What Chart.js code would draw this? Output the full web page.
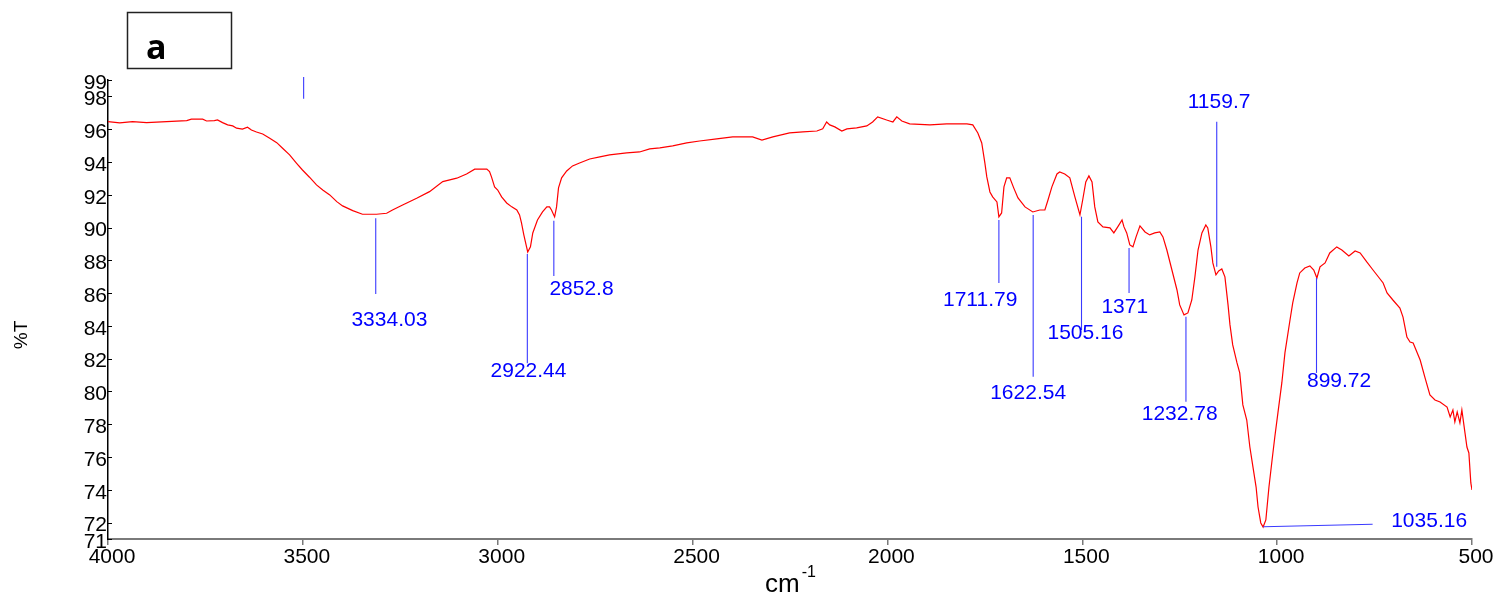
<!DOCTYPE html>
<html>
<head>
<meta charset="utf-8">
<script src="https://cdn.jsdelivr.net/npm/chart.js@4.4.0/dist/chart.umd.min.js"></script>
<style>
html,body{margin:0;padding:0;background:#fff;}
#wrap{width:1497px;height:601px;position:relative;}
</style>
</head>
<body>
<div id="wrap"><canvas id="c"></canvas></div>
<script>
// ---- Data ----
const wavenumbers = [4000,3970,3937,3901,3798,3786,3757,3747,3727,3719,3706,3693,3680,3670,3655,3642,3632,3619,3603,3585,3567,3552,3534,3516,3501,3483,3465,3449,3431,3413,3398,3372,3347,3311,3285,3270,3244,3208,3175,3141,3105,3080,3059,3028,3021,3016,3008,3000,2990,2977,2964,2951,2944,2939,2933,2926,2923,2916,2910,2898,2885,2874,2867,2862,2854,2849,2844,2836,2823,2808,2790,2764,2738,2713,2669,2636,2610,2584,2551,2515,2482,2438,2397,2346,2322,2294,2251,2217,2181,2166,2156,2148,2135,2117,2104,2079,2053,2038,2025,2002,1986,1976,1963,1943,1891,1848,1796,1781,1768,1758,1750,1745,1737,1730,1719,1714,1707,1701,1694,1686,1676,1665,1647,1627,1609,1596,1588,1578,1565,1558,1545,1532,1519,1506,1499,1491,1483,1475,1468,1460,1447,1429,1419,1409,1398,1393,1386,1378,1370,1362,1352,1339,1327,1314,1301,1293,1283,1270,1257,1250,1239,1229,1219,1211,1203,1193,1183,1178,1170,1165,1157,1150,1142,1134,1126,1121,1114,1103,1096,1088,1078,1070,1062,1054,1049,1042,1036,1029,1021,1013,1006,998,988,980,967,960,949,942,929,916,906,898,890,877,865,847,834,816,800,787,770,754,728,718,703,685,677,667,659,651,633,621,608,595,582,564,556,549,544,538,531,526,518,513,508,503,500];
const transmittance = [96.46,96.38,96.46,96.40,96.52,96.61,96.61,96.50,96.52,96.56,96.40,96.26,96.20,96.06,96.00,96.12,95.95,95.83,95.71,95.45,95.18,94.84,94.43,93.92,93.51,93.07,92.60,92.29,91.99,91.58,91.32,91.03,90.81,90.81,90.87,91.07,91.38,91.79,92.19,92.80,93.01,93.27,93.56,93.56,93.41,93.09,92.48,92.29,91.87,91.50,91.26,91.07,90.77,90.28,89.55,88.82,88.51,88.82,89.67,90.46,90.95,91.26,91.26,91.07,90.65,91.26,92.42,93.03,93.45,93.76,93.94,94.18,94.31,94.43,94.55,94.61,94.80,94.86,94.98,95.16,95.28,95.41,95.53,95.53,95.34,95.53,95.77,95.83,95.89,96.02,96.44,96.26,96.14,95.89,96.02,96.08,96.20,96.44,96.75,96.56,96.44,96.75,96.50,96.32,96.26,96.32,96.32,96.26,95.77,95.16,93.94,93.09,92.17,91.87,91.56,90.65,90.89,92.48,93.03,93.03,92.42,91.81,91.26,90.95,91.07,91.07,91.68,92.48,93.27,93.39,93.27,93.03,91.87,90.77,91.68,92.78,93.15,92.78,91.26,90.34,90.04,89.98,89.67,90.04,90.46,90.04,89.67,88.94,88.82,89.43,90.10,89.73,89.55,89.67,89.73,89.43,88.63,87.41,86.19,85.28,84.67,84.79,85.58,86.99,88.63,89.67,90.16,89.98,88.82,87.84,87.11,87.35,87.47,86.99,85.28,84.06,82.84,81.74,81.13,79.18,78.26,76.61,75.39,74.17,72.95,71.98,71.73,72.16,74.17,75.82,77.22,78.69,80.52,82.35,84.36,85.40,86.62,87.23,87.53,87.66,87.41,86.92,87.60,87.84,88.45,88.82,88.63,88.27,88.57,88.45,87.90,87.41,86.62,86.01,85.58,85.09,84.54,83.32,83.02,82.96,81.92,80.88,79.79,79.48,79.36,79.05,78.44,78.87,78.14,78.75,78.08,78.87,77.47,76.61,76.25,74.42,73.99];

const xTicks = [4000,3500,3000,2500,2000,1500,1000,500];
const yTicks = [71,72,74,76,78,80,82,84,86,88,90,92,94,96,98,99];

// Peak annotations (wavenumber / %T units)
const peakLabels = ['3334.03','2922.44','2852.8','1711.79','1622.54','1505.16','1371','1232.78','1159.7','1035.16','899.72'];
const peakLineX1 = [3313,2924,2856,1714,1626,1502,1380,1234,1155,1036,899];
const peakLineY1 = [90.57,88.39,90.42,90.46,90.77,90.66,88.75,84.56,96.46,71.75,86.92];
const peakLineX2 = [3313,2924,2856,1714,1626,1502,1380,1234,1155,755,899];
const peakLineY2 = [85.95,81.72,87.05,86.62,80.90,83.75,86.01,79.38,87.61,71.90,81.13];
const peakLabelX = [3278,2921,2785,1762,1639,1492,1391,1250,1149,610,841];
const peakLabelY = [84.32,81.21,86.25,85.58,79.91,83.57,85.16,78.63,97.62,72.06,80.64];
// stray cursor mark near 3500
const markerX = [3498];
const markerTop = [99.19];
const markerBottom = [97.85];

const FONT = '"Liberation Sans", Arial, sans-serif';

const points = wavenumbers.map((w, i) => ({x: w, y: transmittance[i]}));

const decorPlugin = {
  id: 'decor',
  afterDatasetsDraw(chart) {
    const {ctx, chartArea} = chart;
    const xs = chart.scales.x, ys = chart.scales.y;
    ctx.save();
    // inner y tick marks
    ctx.strokeStyle = '#000';
    ctx.lineWidth = 1;
    yTicks.forEach(v => {
      const py = Math.round(ys.getPixelForValue(v)) + 0.5;
      ctx.beginPath();
      ctx.moveTo(chartArea.left, py);
      ctx.lineTo(chartArea.left + 4, py);
      ctx.stroke();
    });
    // peak lines
    ctx.strokeStyle = '#3a3aff';
    ctx.lineWidth = 1.1;
    for (let i = 0; i < peakLabels.length; i++) {
      ctx.beginPath();
      ctx.moveTo(xs.getPixelForValue(peakLineX1[i]), ys.getPixelForValue(peakLineY1[i]));
      ctx.lineTo(xs.getPixelForValue(peakLineX2[i]), ys.getPixelForValue(peakLineY2[i]));
      ctx.stroke();
    }
    for (let i = 0; i < markerX.length; i++) {
      ctx.beginPath();
      ctx.moveTo(xs.getPixelForValue(markerX[i]), ys.getPixelForValue(markerTop[i]));
      ctx.lineTo(xs.getPixelForValue(markerX[i]), ys.getPixelForValue(markerBottom[i]));
      ctx.stroke();
    }
    // peak labels
    ctx.fillStyle = '#0000ff';
    ctx.font = '21px ' + FONT;
    ctx.textAlign = 'center';
    ctx.textBaseline = 'middle';
    for (let i = 0; i < peakLabels.length; i++) {
      ctx.fillText(peakLabels[i], xs.getPixelForValue(peakLabelX[i]), ys.getPixelForValue(peakLabelY[i]));
    }
    ctx.restore();
  },
  afterDraw(chart) {
    const {ctx, chartArea} = chart;
    ctx.save();
    // x-axis title: cm^-1
    const cx = (chartArea.left + chartArea.right) / 2;
    ctx.fillStyle = '#000';
    ctx.textBaseline = 'alphabetic';
    ctx.textAlign = 'left';
    ctx.font = '26px ' + FONT;
    const cmW = ctx.measureText('cm').width;
    const startX = cx - 25;
    ctx.fillText('cm', startX, 592);
    ctx.font = '16px ' + FONT;
    ctx.fillText('-1', startX + cmW + 2, 577);
    // y-axis title
    ctx.translate(22, 335);
    ctx.rotate(-Math.PI / 2);
    ctx.font = '19px ' + FONT;
    ctx.textAlign = 'center';
    ctx.textBaseline = 'middle';
    ctx.fillText('%T', 0, 0);
    ctx.restore();
    // panel label box
    ctx.save();
    ctx.strokeStyle = '#222';
    ctx.lineWidth = 1.5;
    ctx.strokeRect(127.5, 12.5, 104, 56);
    ctx.fillStyle = '#000';
    ctx.font = 'bold 34px "Open Sans", ' + FONT;
    ctx.textAlign = 'left';
    ctx.textBaseline = 'alphabetic';
    ctx.fillText('a', 146, 59);
    ctx.restore();
  }
};

new Chart(document.getElementById('c'), {
  type: 'line',
  data: {
    datasets: [{
      data: points,
      borderColor: '#ff0000',
      borderWidth: 1.2,
      pointRadius: 0,
      tension: 0,
      fill: false
    }]
  },
  options: {
    responsive: true,
    maintainAspectRatio: false,
    animation: false,
    devicePixelRatio: 1,
    parsing: false,
    layout: {padding: {left: 0, right: 25, top: 80, bottom: 0}},
    plugins: {legend: {display: false}, tooltip: {enabled: false}, title: {display: false}},
    scales: {
      x: {
        type: 'linear',
        reverse: true,
        min: 500,
        max: 4000,
        afterBuildTicks: s => { s.ticks = xTicks.map(v => ({value: v})); },
        afterFit: s => { s.height = 62; },
        border: {display: true, color: '#7a7a7a', width: 2},
        grid: {display: true, drawOnChartArea: false, drawTicks: true, tickLength: 6, color: '#7a7a7a', lineWidth: 1.5},
        ticks: {color: '#000', font: {family: FONT, size: 21}, padding: 0, labelOffset: 4, maxRotation: 0, autoSkip: false,
                callback: v => String(v)}
      },
      y: {
        type: 'linear',
        min: 71,
        max: 99,
        afterBuildTicks: s => { s.ticks = yTicks.map(v => ({value: v})); },
        afterFit: s => { s.width = 108; },
        border: {display: true, color: '#000', width: 1.5},
        grid: {display: false, drawTicks: false},
        ticks: {color: '#000', font: {family: FONT, size: 21}, padding: 1, labelOffset: 3, autoSkip: false,
                callback: v => String(v)}
      }
    }
  },
  plugins: [decorPlugin]
});
</script>
</body>
</html>
